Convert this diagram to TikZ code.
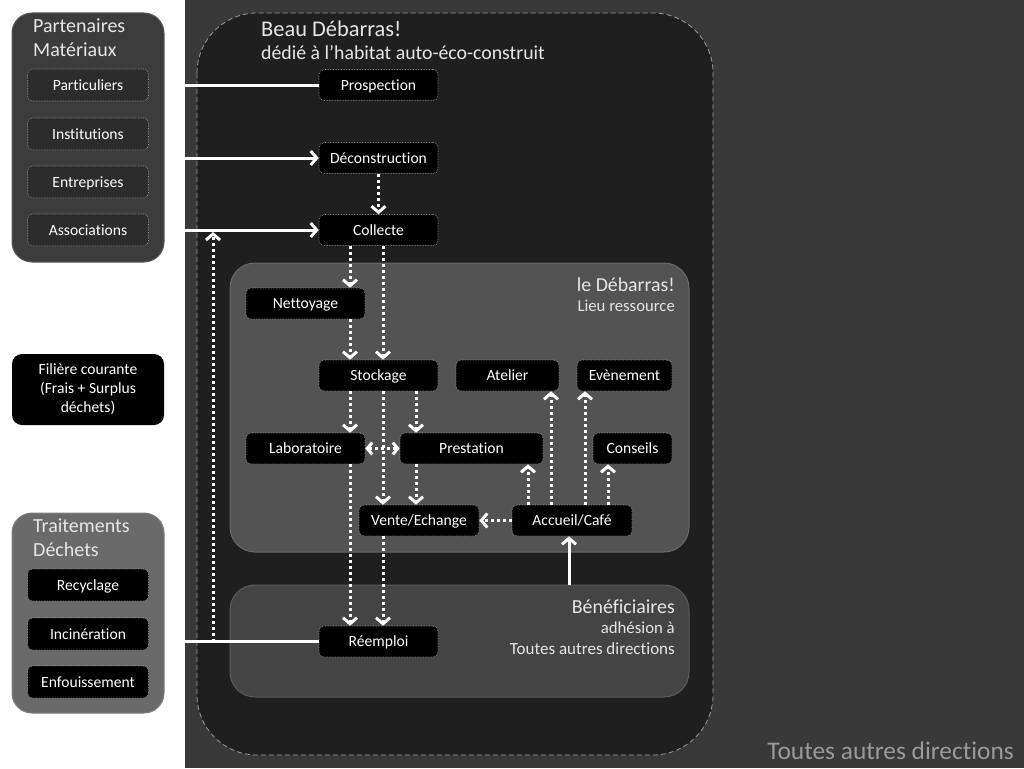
\documentclass[tikz,border=0pt]{standalone}
\usepackage{fontspec}
\setmainfont{Carlito}[Ligatures=NoCommon]
\usetikzlibrary{arrows.meta}
\definecolor{bgright}{HTML}{393939}
\definecolor{bigbox}{HTML}{1F1F1F}
\definecolor{regA}{HTML}{535353}
\definecolor{regAedge}{HTML}{6A6A6A}
\definecolor{regB}{HTML}{444444}
\definecolor{regBedge}{HTML}{5C5C5C}
\definecolor{panA}{HTML}{3C3C3C}
\definecolor{panAedge}{HTML}{5A5A5A}
\definecolor{panB}{HTML}{6A6A6A}
\definecolor{panBedge}{HTML}{808080}
\definecolor{innerA}{HTML}{2C2C2C}
\definecolor{titletxt}{HTML}{E6E6E6}
\definecolor{bigtxt}{HTML}{9A9A9A}
\tikzset{
  blk/.style={fill=black, draw=gray!75, densely dotted, line width=0.6pt,
    rounded corners=5pt, text=white, font=\fontsize{15.6}{18}\selectfont,
    minimum height=31pt, inner sep=0pt, text height=12pt, text depth=2pt},
  gbox/.style={blk, fill=innerA, minimum width=121pt, minimum height=32pt},
  bbox/.style={blk, minimum width=121pt, minimum height=32pt},
  region/.style={rounded corners=25pt, line width=1pt, inner sep=0pt},
  panel/.style={rounded corners=20pt, line width=1pt, inner sep=0pt, minimum width=152pt},
  lbl/.style={inner sep=0pt, text=titletxt},
  tip/.style={-{Straight Barb[length=6pt,width=14pt]}},
  solidar/.style={white, line width=3pt},
  dotar/.style={white, line width=3pt, dash pattern=on 3pt off 3pt},
}
\begin{document}
\begin{tikzpicture}[x=1pt,y=-1pt]
\useasboundingbox (0,0) rectangle (1024,768);
\fill[white] (0,0) rectangle (1024,768);
\fill[bgright] (185,0) rectangle (1024,768);

% big dashed area
\draw[fill=bigbox, draw=gray!80, line width=0.8pt, dash pattern=on 5pt off 3pt, rounded corners=60pt]
  (197,13) rectangle (713,755);
\node[lbl, anchor=west, font=\fontsize{22.4}{26}\selectfont] (beau) at (261,29) {Beau Débarras!};
\node[lbl, anchor=west, font=\fontsize{19.8}{23}\selectfont] (dedie) at (261,53) {dédié à l’habitat auto-éco-construit};

% regions
\node[region, fill=regA, draw=regAedge, minimum width=459pt, minimum height=289pt] (debarras) at (459.5,407.5) {};
\node[lbl, anchor=east, font=\fontsize{19.8}{23}\selectfont] (ledeb) at (675,285) {le Débarras!};
\node[lbl, anchor=east, font=\fontsize{16.7}{19}\selectfont] (lieu) at (675,306) {Lieu ressource};

\node[region, fill=regB, draw=regBedge, minimum width=459pt, minimum height=112pt] (benef) at (459.5,641) {};
\node[lbl, anchor=east, font=\fontsize{19.9}{23}\selectfont] (benefT) at (675,607) {Bénéficiaires};
\node[lbl, anchor=east, font=\fontsize{16.8}{19}\selectfont] (adh) at (675,628) {adhésion à};
\node[lbl, anchor=east, font=\fontsize{17}{19}\selectfont] (tad) at (675,649) {Toutes autres directions};

\node[lbl, anchor=east, text=bigtxt, font=\fontsize{25.4}{29}\selectfont] (big) at (1014,751) {Toutes autres directions};

% left panels
\node[panel, fill=panA, draw=panAedge, minimum height=249pt] (partP) at (88,137.5) {};
\node[lbl, anchor=west, font=\fontsize{20}{23}\selectfont] (partT1) at (33,26) {Partenaires};
\node[lbl, anchor=west, font=\fontsize{20}{23}\selectfont] (partT2) at (33,50) {Matériaux};
\node[gbox] (parti) at (88,85) {Particuliers};
\node[gbox] (insti) at (88,134) {Institutions};
\node[gbox] (entre) at (88,182) {Entreprises};
\node[gbox] (assoc) at (88,230) {Associations};

\node[fill=black, rounded corners=10pt, minimum width=152pt, minimum height=71pt, inner sep=0pt,
  text=white, align=center, font=\fontsize{15.6}{19}\selectfont] (filiere) at (88,389.5)
  {Filière courante\\(Frais + Surplus\\déchets)};

\node[panel, fill=panB, draw=panBedge, minimum height=200pt] (traitP) at (88,613) {};
\node[lbl, anchor=west, font=\fontsize{20}{23}\selectfont] (traitT1) at (33,526) {Traitements};
\node[lbl, anchor=west, font=\fontsize{20}{23}\selectfont] (traitT2) at (33,550) {Déchets};
\node[bbox] (recy) at (88,585) {Recyclage};
\node[bbox] (inci) at (88,634) {Incinération};
\node[bbox] (enfo) at (88,682) {Enfouissement};

% main nodes
\node[blk, minimum width=119pt] (prosp) at (378.5,85) {Prospection};
\node[blk, minimum width=119pt] (decon) at (378.5,158) {Déconstruction};
\node[blk, minimum width=119pt] (coll) at (378.5,230) {Collecte};
\node[blk, minimum width=119pt] (nett) at (305.5,303.5) {Nettoyage};
\node[blk, minimum width=119pt] (stock) at (378.5,375.5) {Stockage};
\node[blk, minimum width=103pt] (atel) at (507.5,375.5) {Atelier};
\node[blk, minimum width=95pt] (even) at (624.5,375.5) {Evènement};
\node[blk, minimum width=119pt] (labo) at (305.5,448.5) {Laboratoire};
\node[blk, minimum width=143pt] (prest) at (471.5,448.5) {Prestation};
\node[blk, minimum width=79pt] (cons) at (632.5,448.5) {Conseils};
\node[blk, minimum width=120pt] (vente) at (419,520.5) {Vente/Echange};
\node[blk, minimum width=120pt] (accu) at (572,520.5) {Accueil/Café};
\node[blk, minimum width=119pt] (reem) at (378.5,641.5) {Réemploi};

% free ends
\coordinate (inP) at (185,85);
\coordinate (inD) at (185,158);
\coordinate (inC) at (185,230);
\coordinate (outR) at (185,641.5);
\coordinate (upS) at (213,641.5);
\coordinate (upE) at (213,232);

% solid connectors
\draw[solidar] (inP) -- (prosp.west);
\draw[solidar, tip] (inD) -- (decon.west);
\draw[solidar, tip] (inC) -- (coll.west);
\draw[solidar] (reem.west) -- (outR);
\draw[solidar, tip] ([xshift=-3pt]accu.south |- benef.north) -- ([xshift=-3pt]accu.south);

% dotted connectors
\draw[dotar, tip] (upS) -- (upE);
\draw[dotar, tip] (decon.south) -- (coll.north);
\draw[dotar, tip] ([xshift=-28.5pt]coll.south) -- ([xshift=44.5pt]nett.north);
\draw[dotar, tip] ([xshift=4.5pt]coll.south) -- ([xshift=4.5pt]stock.north);
\draw[dotar, tip] ([xshift=44.5pt]nett.south) -- ([xshift=-28.5pt]stock.north);
\draw[dotar, tip] ([xshift=-28.5pt]stock.south) -- ([xshift=44.5pt]labo.north);
\draw[dotar, tip] ([xshift=37.5pt]stock.south) -- ([xshift=-55.5pt]prest.north);
\draw[dotar, tip] ([xshift=4.5pt]stock.south) -- ([xshift=-36pt]vente.north);
\draw[dotar, {Straight Barb[length=5pt,width=12pt]}-{Straight Barb[length=5pt,width=12pt]}] (labo.east) -- (prest.west);
\draw[dotar, tip] ([xshift=-55.5pt]prest.south) -- ([xshift=-3pt]vente.north);
\draw[dotar, tip] (accu.west) -- (vente.east);
\draw[dotar, tip] ([xshift=-44pt]accu.north) -- ([xshift=56.5pt]prest.south);
\draw[dotar, tip] ([xshift=-21pt]accu.north) -- ([xshift=43.5pt]atel.south);
\draw[dotar, tip] ([xshift=13pt]accu.north) -- ([xshift=-39.5pt]even.south);
\draw[dotar, tip] ([xshift=36pt]accu.north) -- ([xshift=-24.5pt]cons.south);
\draw[dotar, tip] ([xshift=44.5pt]labo.south) -- ([xshift=-28.5pt]reem.north);
\draw[dotar, tip] ([xshift=-36pt]vente.south) -- ([xshift=4.5pt]reem.north);
\end{tikzpicture}
\end{document}
